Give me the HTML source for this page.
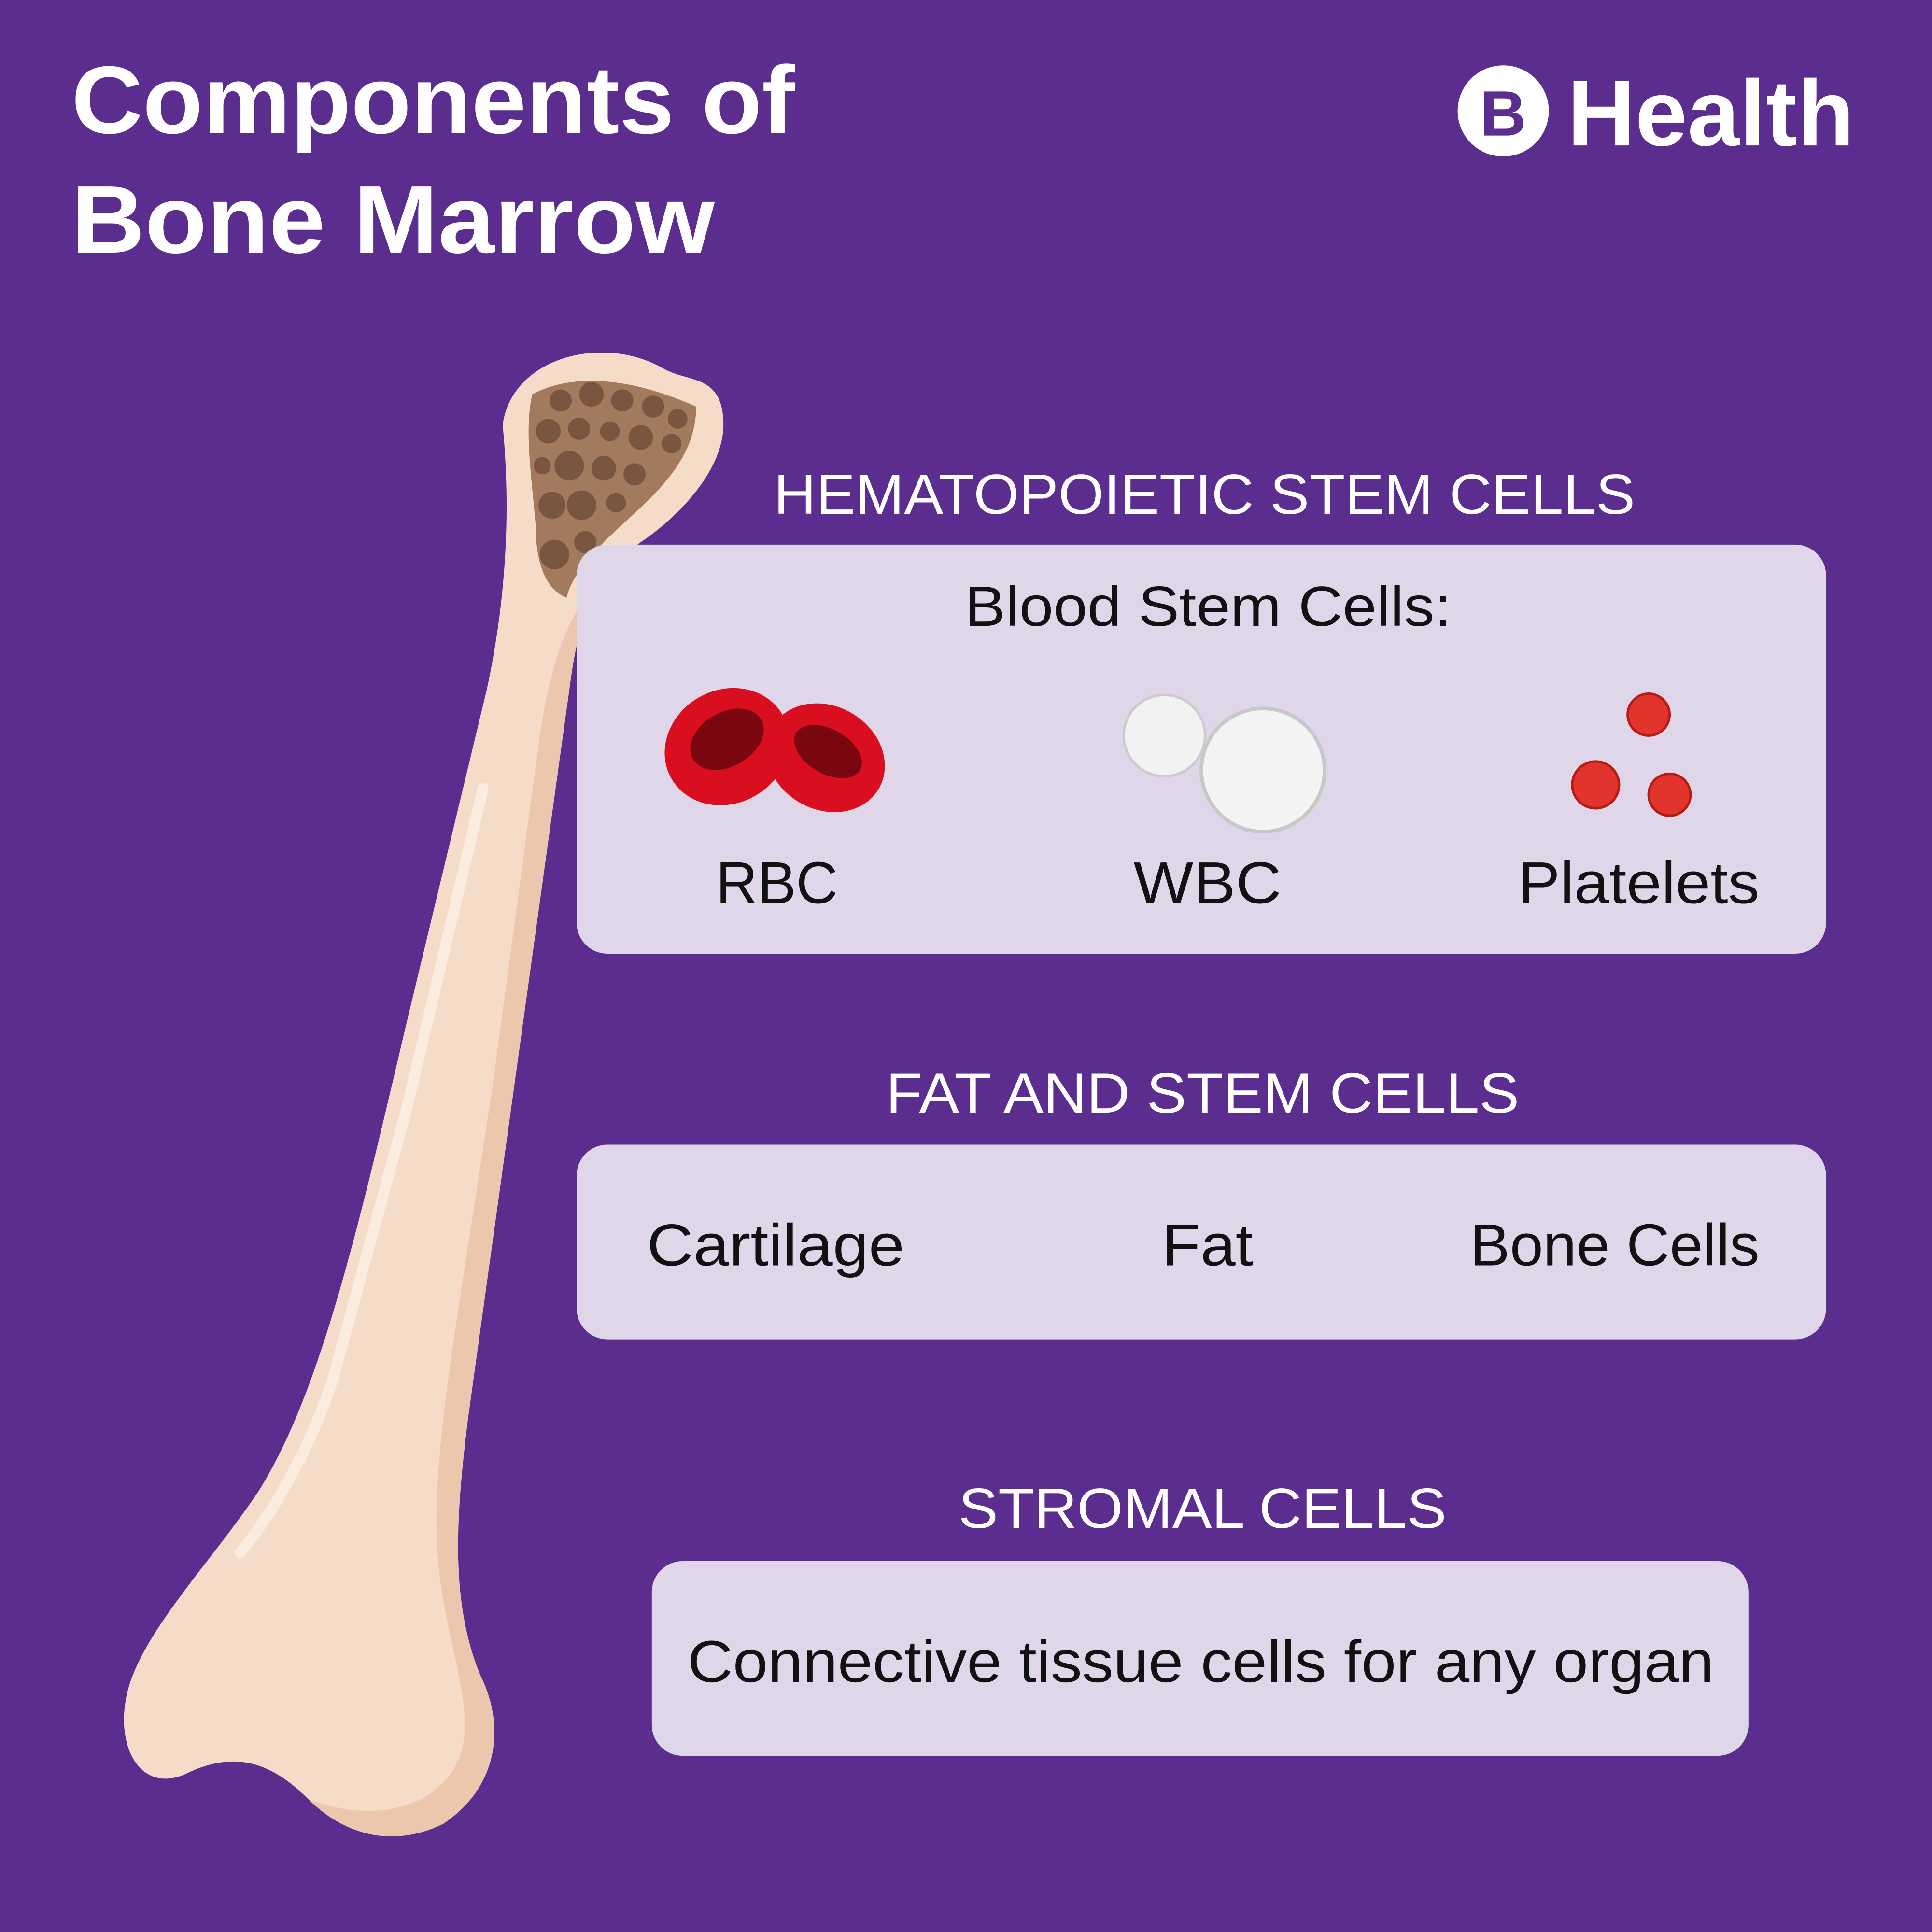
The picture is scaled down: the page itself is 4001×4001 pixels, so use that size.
<!DOCTYPE html>
<html><head><meta charset="utf-8"><style>
html,body{margin:0;padding:0;background:#5b2d8e;}
svg{display:block;}
text{font-family:"Liberation Sans",sans-serif;}
</style></head><body>
<svg width="4001" height="4001" viewBox="0 0 1568 1568" xmlns="http://www.w3.org/2000/svg">
<rect width="1568" height="1568" fill="#5b2d8e"/>
<text x="58" y="108" font-size="78" font-weight="bold" fill="#fff" textLength="587" lengthAdjust="spacingAndGlyphs">Components of</text>
<text x="58" y="205" font-size="78" font-weight="bold" fill="#fff" textLength="522" lengthAdjust="spacingAndGlyphs">Bone Marrow</text>
<circle cx="1220" cy="90" r="37" fill="#fff"/>
<text x="1220" y="110" font-size="52" font-weight="bold" fill="#5b2d8e" text-anchor="middle">B</text>
<text x="1272" y="118" font-size="76" font-weight="bold" fill="#fff" textLength="233" lengthAdjust="spacingAndGlyphs">Health</text>

<!-- bone -->
<path d="M408,345 C415,290 490,270 540,300 C560,310 585,305 587,340 C590,380 550,420 520,440 C480,470 470,500 462,560 L380,1150 C370,1230 365,1300 390,1360 C410,1400 405,1450 360,1480 C320,1500 280,1490 250,1460 C220,1430 190,1420 150,1440 C115,1455 95,1420 102,1380 C110,1330 170,1270 210,1210 C260,1130 290,1000 330,830 L395,560 C410,490 415,420 408,345 Z" fill="#f5dcc9"/>
<path d="M520,440 C480,470 470,500 462,560 L380,1150 C370,1230 365,1300 390,1360 C410,1400 405,1450 360,1480 C320,1500 280,1490 250,1460 C300,1480 360,1470 375,1420 C385,1380 360,1330 355,1260 C350,1180 370,1080 400,880 L435,620 C445,540 460,480 520,440 Z" fill="#ecc7ad"/>
<path d="M392,640 L330,900 L270,1120 C250,1180 220,1230 195,1260" stroke="#fbece0" stroke-width="9" fill="none" stroke-linecap="round"/>
<path d="M432,320 C470,300 520,310 565,330 C565,380 520,410 490,440 C470,460 462,475 460,485 C445,480 435,460 435,430 C432,390 425,350 432,320 Z" fill="#a47a5f"/>
<g fill="#7a5640">
<circle cx="455" cy="325" r="9"/><circle cx="480" cy="320" r="10"/><circle cx="505" cy="325" r="9"/><circle cx="530" cy="330" r="9"/><circle cx="550" cy="340" r="8"/>
<circle cx="445" cy="350" r="10"/><circle cx="470" cy="348" r="9"/><circle cx="495" cy="350" r="8"/><circle cx="520" cy="355" r="10"/><circle cx="545" cy="360" r="8"/>
<circle cx="462" cy="378" r="12"/><circle cx="490" cy="380" r="10"/><circle cx="515" cy="385" r="9"/><circle cx="440" cy="378" r="7"/>
<circle cx="448" cy="410" r="11"/><circle cx="472" cy="410" r="12"/><circle cx="500" cy="408" r="8"/>
<circle cx="450" cy="450" r="12"/><circle cx="475" cy="440" r="9"/>
</g>

<!-- section 1 -->
<text x="628" y="417" font-size="46" fill="#fff" textLength="699" lengthAdjust="spacingAndGlyphs">HEMATOPOIETIC STEM CELLS</text>
<rect x="468" y="442" width="1014" height="332" rx="25" fill="#dfd7e9"/>
<text x="783" y="508" font-size="46" fill="#111" textLength="395" lengthAdjust="spacingAndGlyphs">Blood Stem Cells:</text>
<ellipse cx="590" cy="606" rx="52" ry="46" transform="rotate(-30 590 606)" fill="#d90e1f"/>
<ellipse cx="590" cy="600" rx="32" ry="22" transform="rotate(-30 590 600)" fill="#7a0610"/>
<ellipse cx="670" cy="615" rx="50" ry="42" transform="rotate(30 670 615)" fill="#d90e1f"/>
<ellipse cx="672" cy="610" rx="30" ry="18" transform="rotate(30 672 610)" fill="#7a0610"/>
<circle cx="945" cy="597" r="33" fill="#f2f2f2" stroke="#ccc" stroke-width="2"/>
<circle cx="1025" cy="625" r="50" fill="#f4f4f4" stroke="#c8c8c8" stroke-width="3"/>
<g fill="#e0342c" stroke="#b51c14" stroke-width="2">
<circle cx="1338" cy="580" r="17"/><circle cx="1295" cy="637" r="19"/><circle cx="1355" cy="645" r="17"/>
</g>
<text x="581" y="733" font-size="48" fill="#111" textLength="99" lengthAdjust="spacingAndGlyphs">RBC</text>
<text x="920" y="733" font-size="48" fill="#111" textLength="120" lengthAdjust="spacingAndGlyphs">WBC</text>
<text x="1232" y="733" font-size="48" fill="#111" textLength="196" lengthAdjust="spacingAndGlyphs">Platelets</text>

<!-- section 2 -->
<text x="719" y="903" font-size="46" fill="#fff" textLength="514" lengthAdjust="spacingAndGlyphs">FAT AND STEM CELLS</text>
<rect x="468" y="929" width="1014" height="158" rx="25" fill="#dfd7e9"/>
<text x="525" y="1027" font-size="48" fill="#111" textLength="209" lengthAdjust="spacingAndGlyphs">Cartilage</text>
<text x="943" y="1027" font-size="48" fill="#111" textLength="74" lengthAdjust="spacingAndGlyphs">Fat</text>
<text x="1193" y="1027" font-size="48" fill="#111" textLength="235" lengthAdjust="spacingAndGlyphs">Bone Cells</text>

<!-- section 3 -->
<text x="778" y="1240" font-size="46" fill="#fff" textLength="396" lengthAdjust="spacingAndGlyphs">STROMAL CELLS</text>
<rect x="529" y="1267" width="890" height="158" rx="25" fill="#dfd7e9"/>
<text x="558" y="1365" font-size="48" fill="#111" textLength="833" lengthAdjust="spacingAndGlyphs">Connective tissue cells for any organ</text>
</svg>
</body></html>
